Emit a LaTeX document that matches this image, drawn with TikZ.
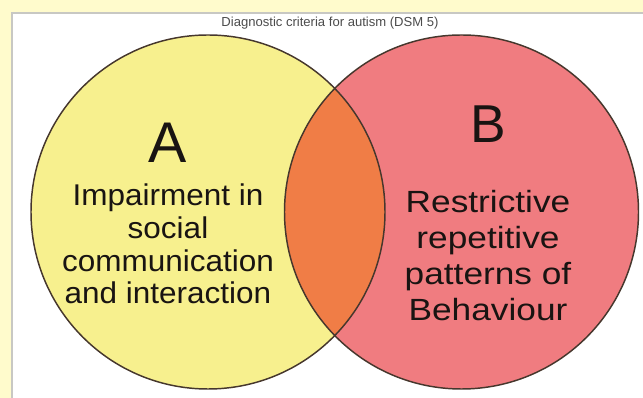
\documentclass[tikz,border=0pt]{standalone}
\usepackage{fontspec}
\setmainfont{Liberation Sans}
\newfontfamily\leftfont[FakeStretch=1.05]{Liberation Sans}
\newfontfamily\rightfont[FakeStretch=1.15]{Liberation Sans}
\definecolor{bgyellow}{RGB}{255,251,204}
\definecolor{panelgray}{RGB}{200,200,195}
\definecolor{ayellow}{RGB}{247,240,142}
\definecolor{bred}{RGB}{240,124,128}
\definecolor{lensorange}{RGB}{240,125,70}
\definecolor{outline}{RGB}{70,55,45}
\definecolor{ink}{RGB}{25,20,18}
\begin{document}
\begin{tikzpicture}[x=0.75pt,y=-0.75pt,
  venn/.style={circle,inner sep=0pt,outer sep=0pt,minimum size=265.5pt},
  ring/.style={draw=outline,line width=1.1pt},
  bigletter/.style={inner sep=0pt,anchor=base,text=ink},
  bodytext/.style={inner sep=0pt,anchor=north,align=center,text=ink}]
\useasboundingbox (0,0) rectangle (643,398);
% background and panel
\fill[bgyellow] (0,0) rectangle (643,398);
\fill[white] (12,13) rectangle (643,398);
\draw[panelgray,line width=1pt] (12,398) -- (12,13) -- (643,13);
% title
\node[inner sep=0pt,text=black!70,font=\fontsize{9.8pt}{11pt}\selectfont] (title) at (330,23.5) {Diagnostic criteria for autism (DSM 5)};
% circles
\node[venn,fill=ayellow] (A) at (208,212) {};
\node[venn,fill=bred] (B) at (461.5,212) {};
\begin{scope}
  \clip (A.center) circle[radius=132.75pt];
  \fill[lensorange] (B.center) circle[radius=132.75pt];
\end{scope}
\draw[ring] (A.center) circle[radius=132.75pt];
\draw[ring] (B.center) circle[radius=132.75pt];
% texts
\node[bigletter,font=\fontsize{43pt}{46pt}\selectfont] (la) at (168,163) {A};
\node[bigletter,font=\fontsize{40pt}{44pt}\selectfont] (lb) at (488,143) {B};
\node[bodytext,font=\leftfont\fontsize{22.5pt}{24.6pt}\selectfont] (ta) at (168,183.5)
  {Impairment in\\social\\communication\\and interaction};
\node[bodytext,font=\rightfont\fontsize{23pt}{27pt}\selectfont] (tb) at (488,190.5)
  {Restrictive\\repetitive\\patterns of\\Behaviour};
\end{tikzpicture}
\end{document}
